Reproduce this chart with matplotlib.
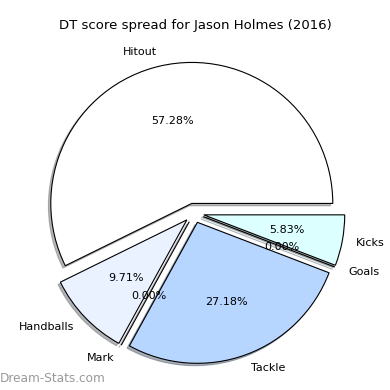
import matplotlib
matplotlib.use('Agg')
import matplotlib.pyplot as plt

labels = ['Hitout', 'Handballs', 'Mark', 'Tackle', 'Goals', 'Kicks']
scores = [59, 10, 0, 28, 0, 6]
colours = ['#ffffff', '#eaf1ff', '#d0e2ff', '#b6d5ff', '#c8ecff', '#dcffff']

fig = plt.figure(figsize=(3.9, 3.9), dpi=100)
ax = fig.add_axes([0, 0, 1, 1])

ax.pie(scores, labels=labels, colors=colours, explode=[0.07] * len(scores),
       autopct='%1.2f%%', pctdistance=0.6, labeldistance=1.1,
       startangle=0, shadow={'ox': -0.012, 'oy': -0.012, 'shade': 0.55},
       wedgeprops={'edgecolor': 'black', 'linewidth': 0.8},
       textprops={'fontsize': 8})

ax.set_xlim(-1.376, 1.390)
ax.set_ylim(-1.255, 1.511)
ax.set_aspect('auto')
ax.axis('off')

fig.text(0.5, 0.934, 'DT score spread for Jason Holmes (2016)', ha='center', va='center', fontsize=9.5)
fig.text(0.0, 0.030, 'Dream-Stats.com', ha='left', va='center', fontsize=8.7, color='#999999')

fig.savefig('out.png', dpi=100)
